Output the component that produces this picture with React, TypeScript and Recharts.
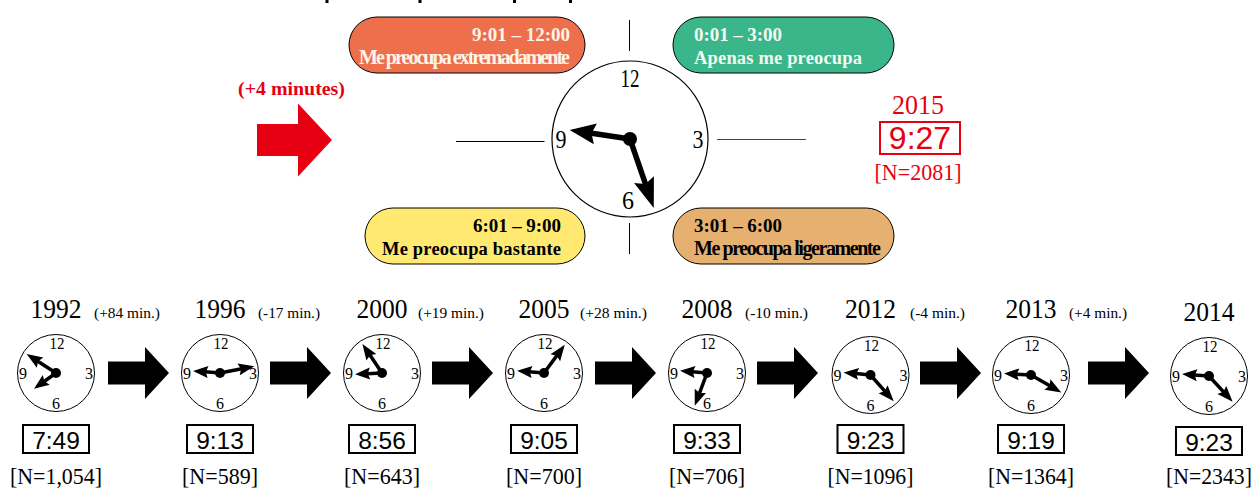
import React from 'react';
import { ScatterChart, Scatter, XAxis, YAxis, ReferenceLine } from 'recharts';

const W = 1254;
const H = 489;

// survey data
const YEARS = [1992, 1996, 2000, 2005, 2008, 2012, 2013, 2014];
const TIMES = ['7:49', '9:13', '8:56', '9:05', '9:33', '9:23', '9:19', '9:23'];
const SAMPLES = ['[N=1,054]', '[N=589]', '[N=643]', '[N=700]', '[N=706]', '[N=1096]', '[N=1364]', '[N=2343]'];
const CHANGES = ['(+84 min.)', '(-17 min.)', '(+19 min.)', '(+28 min.)', '(-10 min.)', '(-4 min.)', '(+4 min.)', ''];
// hand angles, degrees from 12 o'clock
const HOUR_DEG = [234.5, 274.4, 267.3, 274.6, 275, 275.5, 273, 274];
const MINUTE_DEG = [303, 79, 326, 36.5, 200.5, 138.5, 120, 137.5];

const LATEST_YEAR = 2015;
const LATEST_TIME = '9:27';
const LATEST_SAMPLE = '[N=2081]';
const LATEST_CHANGE = '(+4 minutes)';
const LATEST_HOUR_DEG = 278.5;
const LATEST_MINUTE_DEG = 161;

const BAND_RANGES = ['9:01 – 12:00', '0:01 – 3:00', '6:01 – 9:00', '3:01 – 6:00'];
const BAND_NAMES = ['Me preocupa extremadamente', 'Apenas me preocupa', 'Me preocupa bastante', 'Me preocupa ligeramente'];

// layout, separate from the data
const SLOT_X = [56, 220, 382, 544, 707, 870.5, 1031, 1209];
const SLOT_Y = [373, 373, 373, 373, 373, 375, 375, 376];
const CHANGE_X = [94, 258, 418, 580, 745, 910, 1069, 0];
const CHANGE_LEN = [66, 62, 66, 67, 63, 55, 58, 0];
const SAMPLE_LEN = [92, 76, 76, 76, 76, 86, 86, 86];
const ARROW_X = [108, 270, 432, 595, 757, 920, 1088];
const TITLE_TRACES = [327, 420, 514.5, 570.5];
const PILL_BOX = [
  { x: 349, y: 17, w: 236, fill: '#ee6f4b', ink: '#fff4ea', anchor: 'end', tx: 570, fs: 20, len: [98, 211] },
  { x: 673, y: 17, w: 221, fill: '#3bb58a', ink: '#f2fbf2', anchor: 'start', tx: 694, fs: 18.5, len: [88, 168] },
  { x: 365, y: 208, w: 220, fill: '#ffe970', ink: '#000', anchor: 'end', tx: 561, fs: 18.5, len: [88, 179] },
  { x: 673, y: 208, w: 221, fill: '#e6b071', ink: '#000', anchor: 'start', tx: 694, fs: 20, len: [88, 187] },
];

const SERIF = '"Liberation Serif", serif';
const SANS = '"Liberation Sans", sans-serif';
const RED = '#e60012';

const Hand = ({ cx, cy, deg, len, shaft, headLen, headW }: any) => (
  // drawn pointing up then rotated, 0deg = 12 o'clock
  <g transform={`rotate(${deg} ${cx} ${cy})`}>
    <rect x={cx - shaft / 2} y={cy - len + headLen * 0.8} width={shaft} height={len - headLen * 0.8} fill="#000" />
    <path
      d={`M${cx} ${cy - len} L${cx + headW / 2} ${cy - len + headLen} L${cx} ${cy - len + headLen * 0.85} L${cx - headW / 2} ${cy - len + headLen} Z`}
      fill="#000"
    />
  </g>
);

const ClockShape = (big: boolean) => (props: any) => {
  const { cx, cy, payload } = props;
  const r = big ? 78 : 38.5;
  const fs = big ? 25 : 17;
  const off = big ? 61 : 30;
  const numbers = [
    { t: '12', x: big ? 0 : 1, y: -off, len: big ? 19 : 15 },
    { t: '3', x: big ? 68 : 33, y: 0, len: big ? 11 : 8 },
    { t: '6', x: big ? -2 : 0, y: off, len: big ? 12 : 8 },
    { t: '9', x: big ? -69 : -33, y: 0, len: big ? 11 : 8 },
  ];
  return (
    <g>
      <circle cx={cx} cy={cy} r={r} fill="#fff" stroke="#000" strokeWidth={big ? 1.2 : 1} />
      {numbers.map((n) => (
        <text
          key={n.t}
          x={cx + n.x}
          y={cy + n.y + fs * 0.34}
          textAnchor="middle"
          fontFamily={SERIF}
          fontSize={fs}
          textLength={n.len}
          lengthAdjust="spacingAndGlyphs"
        >
          {n.t}
        </text>
      ))}
      <Hand cx={cx} cy={cy} deg={payload.hourDeg} len={big ? 61 : 27} shaft={big ? 5.5 : 3.5} headLen={big ? 26 : 15} headW={big ? 21 : 12} />
      <Hand cx={cx} cy={cy} deg={payload.minuteDeg} len={big ? 73 : 35} shaft={big ? 5.5 : 3.5} headLen={big ? 30 : 16} headW={big ? 21 : 12} />
      <circle cx={cx} cy={cy} r={big ? 7 : 5} fill="#000" />
    </g>
  );
};

const SlotLabels = (props: any) => {
  const { cx, payload } = props;
  const last = payload.idx === 7;
  const boxY = last ? 427 : 425;
  return (
    <g>
      <text x={cx} y={last ? 321 : 318} textAnchor="middle" fontFamily={SERIF} fontSize={27} textLength={51} lengthAdjust="spacingAndGlyphs">
        {payload.year}
      </text>
      {payload.change && (
        <text x={payload.changeX} y={318} fontFamily={SERIF} fontSize={15} textLength={payload.changeLen} lengthAdjust="spacingAndGlyphs">
          {payload.change}
        </text>
      )}
      <rect x={cx - 33} y={boxY} width={66} height={28} fill="#fff" stroke="#000" strokeWidth={2} />
      <text x={cx} y={boxY + 23.5} textAnchor="middle" fontFamily={SANS} fontSize={24.5}>
        {payload.time}
      </text>
      {/* the last label sits against the right edge, so it is set a little smaller */}
      <text x={cx} y={484} textAnchor="middle" fontFamily={SERIF} fontSize={last ? 22.5 : 24} textLength={payload.sampleLen} lengthAdjust="spacingAndGlyphs">
        {payload.sample}
      </text>
    </g>
  );
};

const ArrowShape = (props: any) => {
  const { cx, cy, payload } = props;
  const k = payload.red ? 1.4 : 1;
  const len = payload.red ? 75 : 61;
  const neck = payload.red ? 41 : 37;
  const d = `M${cx} ${cy - 11.5 * k} H${cx + neck} V${cy - 26 * k} L${cx + len} ${cy} L${cx + neck} ${cy + 26 * k} V${cy + 11.5 * k} H${cx} Z`;
  return <path d={d} fill={payload.red ? RED : '#000'} />;
};

const PillShape = (props: any) => {
  const { payload } = props;
  const b = PILL_BOX[payload.idx];
  return (
    <g fontFamily={SERIF} fontWeight="bold" fill={b.ink}>
      <rect x={b.x} y={b.y} width={b.w} height={56} rx={28} fill={b.fill} stroke="#000" strokeWidth={1} />
      <text x={b.tx} y={b.y + 24} textAnchor={b.anchor as any} fontSize={19} textLength={b.len[0]} lengthAdjust="spacing">
        {payload.range}
      </text>
      <text x={b.tx} y={b.y + 47} textAnchor={b.anchor as any} fontSize={b.fs} textLength={b.len[1]} lengthAdjust="spacing">
        {payload.name}
      </text>
    </g>
  );
};

const LatestLabels = (props: any) => {
  const { cx, cy } = props;
  return (
    <g fill={RED} fontFamily={SERIF}>
      <text x={cx - 2} y={cy - 26} textAnchor="middle" fontSize={28} textLength={52} lengthAdjust="spacingAndGlyphs">
        {LATEST_YEAR}
      </text>
      <rect x={cx - 40} y={cy - 18} width={80} height={32} fill="#fff" stroke={RED} strokeWidth={2} />
      <text x={cx} y={cy + 9} textAnchor="middle" fontFamily={SANS} fontSize={32}>
        {LATEST_TIME}
      </text>
      <text x={cx - 2} y={cy + 40} textAnchor="middle" fontSize={23} textLength={87} lengthAdjust="spacingAndGlyphs">
        {LATEST_SAMPLE}
      </text>
      <text x={291.5} y={95} textAnchor="middle" fontWeight="bold" fontSize={19} textLength={107} lengthAdjust="spacingAndGlyphs">
        {LATEST_CHANGE}
      </text>
    </g>
  );
};

const slotData = YEARS.map((year, idx) => ({
  x: SLOT_X[idx],
  y: SLOT_Y[idx],
  idx,
  year,
  time: TIMES[idx],
  sample: SAMPLES[idx],
  sampleLen: SAMPLE_LEN[idx],
  change: CHANGES[idx],
  changeX: CHANGE_X[idx],
  changeLen: CHANGE_LEN[idx],
  hourDeg: HOUR_DEG[idx],
  minuteDeg: MINUTE_DEG[idx],
}));
const arrowData = ARROW_X.map((x) => ({ x, y: 373 }));
const pillData = BAND_NAMES.map((name, idx) => ({ x: PILL_BOX[idx].x, y: PILL_BOX[idx].y, idx, name, range: BAND_RANGES[idx] }));

const App = () => (
  <div style={{ position: 'absolute', left: 0, top: 0, width: W, height: H, background: '#fff', overflow: 'hidden' }}>
    <ScatterChart width={W} height={H} margin={{ top: 0, right: 0, bottom: 0, left: 0 }}>
      <XAxis type="number" dataKey="x" domain={[0, W]} hide />
      <YAxis type="number" dataKey="y" domain={[0, H]} reversed hide />
      {/* descenders of the title, which is cropped off in the picture */}
      {TITLE_TRACES.map((x) => (
        <ReferenceLine key={x} segment={[{ x, y: 0 }, { x, y: 3 }]} stroke="#000" strokeWidth={3} />
      ))}
      <ReferenceLine segment={[{ x: 629.5, y: 20 }, { x: 629.5, y: 51 }]} stroke="#000" />
      <ReferenceLine segment={[{ x: 629.5, y: 223 }, { x: 629.5, y: 254 }]} stroke="#000" />
      <ReferenceLine segment={[{ x: 456, y: 141.5 }, { x: 544.5, y: 141.5 }]} stroke="#000" />
      <ReferenceLine segment={[{ x: 717, y: 139.5 }, { x: 806, y: 139.5 }]} stroke="#444" />
      <Scatter data={pillData} shape={PillShape} isAnimationActive={false} />
      <Scatter data={arrowData} shape={ArrowShape} isAnimationActive={false} />
      <Scatter data={[{ x: 257, y: 140, red: true }]} shape={ArrowShape} isAnimationActive={false} />
      <Scatter data={slotData} shape={ClockShape(false)} isAnimationActive={false} />
      <Scatter data={slotData} shape={SlotLabels} isAnimationActive={false} />
      <Scatter data={[{ x: 630, y: 139, hourDeg: LATEST_HOUR_DEG, minuteDeg: LATEST_MINUTE_DEG }]} shape={ClockShape(true)} isAnimationActive={false} />
      <Scatter data={[{ x: 920, y: 140 }]} shape={LatestLabels} isAnimationActive={false} />
    </ScatterChart>
  </div>
);

export default App;
